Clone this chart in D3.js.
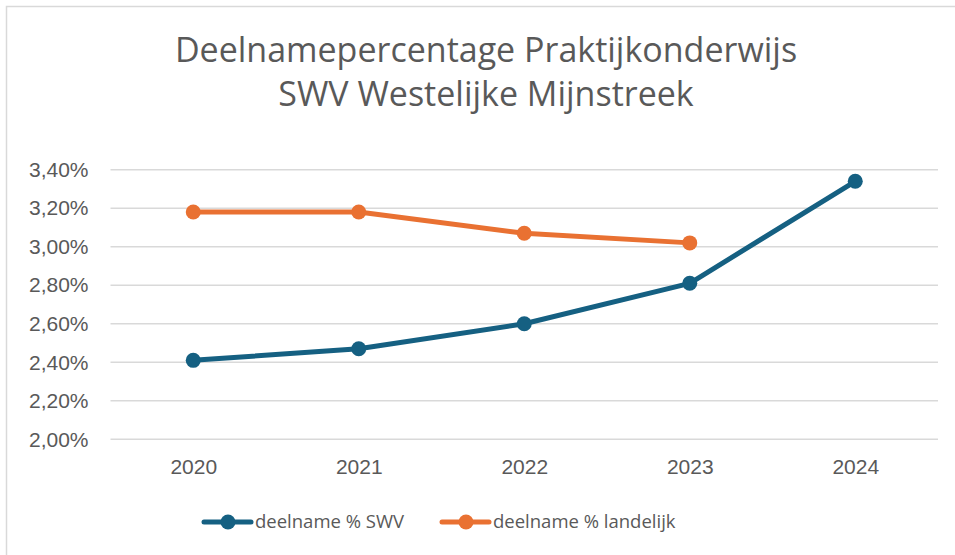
<!DOCTYPE html>
<html>
<head>
<meta charset="utf-8">
<script src="https://cdn.jsdelivr.net/npm/d3@7"></script>
<style>
  body { margin: 0; background: #fff; }
  svg { display: block; }
</style>
</head>
<body>
<div id="chart"></div>
<script>
// chart data
const years = ["2020", "2021", "2022", "2023", "2024"];
const swv = [2.41, 2.47, 2.60, 2.81, 3.34];
const landelijk = [3.18, 3.18, 3.07, 3.02, null];
const yTicks = [2.0, 2.2, 2.4, 2.6, 2.8, 3.0, 3.2, 3.4];
const seriesNames = ["deelname % SWV", "deelname % landelijk"];
const colors = ["#156082", "#E97132"];

const W = 955, H = 555;
const plot = {left: 110.5, right: 938, top: 169.7, bottom: 439.3};

const svg = d3.select("#chart").append("svg")
  .attr("width", W)
  .attr("height", H);

// outer frame (continues past the window)
svg.append("rect")
  .attr("x", 6.5).attr("y", 6.5)
  .attr("width", W + 20).attr("height", H + 20)
  .attr("fill", "#fff")
  .attr("stroke", "#d9d9d9")
  .attr("stroke-width", 1.5);

// title
const title = svg.append("text")
  .attr("text-anchor", "middle")
  .attr("fill", "#595959")
  .style("font-family", "'Open Sans', sans-serif")
  .style("font-size", "34px");
title.append("tspan").attr("x", 486).attr("y", 62).text("Deelnamepercentage Praktijkonderwijs");
title.append("tspan").attr("x", 486).attr("y", 106).text("SWV Westelijke Mijnstreek");

const x = d3.scalePoint()
  .domain(years)
  .range([plot.left, plot.right])
  .padding(0.5);

const y = d3.scaleLinear()
  .domain([2.0, 3.4])
  .range([plot.bottom, plot.top]);

// gridlines
svg.append("g")
  .selectAll("line")
  .data(yTicks)
  .join("line")
  .attr("x1", plot.left).attr("x2", plot.right)
  .attr("y1", d => y(d)).attr("y2", d => y(d))
  .attr("stroke", "#d9d9d9")
  .attr("stroke-width", 1.5);

const fmt = d => d.toFixed(2).replace(".", ",") + "%";

// y axis labels
const yAxis = svg.append("g")
  .attr("transform", `translate(${plot.left - 22},0)`)
  .call(d3.axisLeft(y).tickValues(yTicks).tickFormat(fmt).tickSize(0).tickPadding(0));
yAxis.select(".domain").remove();
yAxis.selectAll("text")
  .attr("fill", "#595959")
  .style("font-family", "'Liberation Sans', Arial, sans-serif")
  .style("font-size", "21px");

// x axis labels
const xAxis = svg.append("g")
  .attr("transform", `translate(0,${plot.bottom + 20})`)
  .call(d3.axisBottom(x).tickSize(0).tickPadding(0));
xAxis.select(".domain").remove();
xAxis.selectAll("text")
  .attr("fill", "#595959")
  .style("font-family", "'Liberation Sans', Arial, sans-serif")
  .style("font-size", "21px");

// series
const series = [swv, landelijk];
const line = d3.line()
  .defined(d => d.v != null)
  .x(d => x(d.year))
  .y(d => y(d.v));

series.forEach((vals, i) => {
  const pts = years.map((yr, j) => ({year: yr, v: vals[j]}));
  svg.append("path")
    .datum(pts)
    .attr("d", line)
    .attr("fill", "none")
    .attr("stroke", colors[i])
    .attr("stroke-width", 5)
    .attr("stroke-linejoin", "round");
  svg.append("g")
    .selectAll("circle")
    .data(pts.filter(d => d.v != null))
    .join("circle")
    .attr("cx", d => x(d.year))
    .attr("cy", d => y(d.v))
    .attr("r", 7.5)
    .attr("fill", colors[i]);
});

// legend
const legendX = [204, 442];
const legend = svg.append("g").attr("transform", "translate(0,522)");
seriesNames.forEach((name, i) => {
  const g = legend.append("g").attr("transform", `translate(${legendX[i]},0)`);
  g.append("line")
    .attr("x1", 0).attr("x2", 47)
    .attr("stroke", colors[i])
    .attr("stroke-width", 5)
    .attr("stroke-linecap", "round");
  g.append("circle").attr("cx", 24).attr("r", 7.5).attr("fill", colors[i]);
  g.append("text")
    .attr("x", 51).attr("dy", "0.35em")
    .attr("fill", "#595959")
    .style("font-family", "'Open Sans', sans-serif")
    .style("font-size", "18.5px")
    .text(name);
});
</script>
</body>
</html>
